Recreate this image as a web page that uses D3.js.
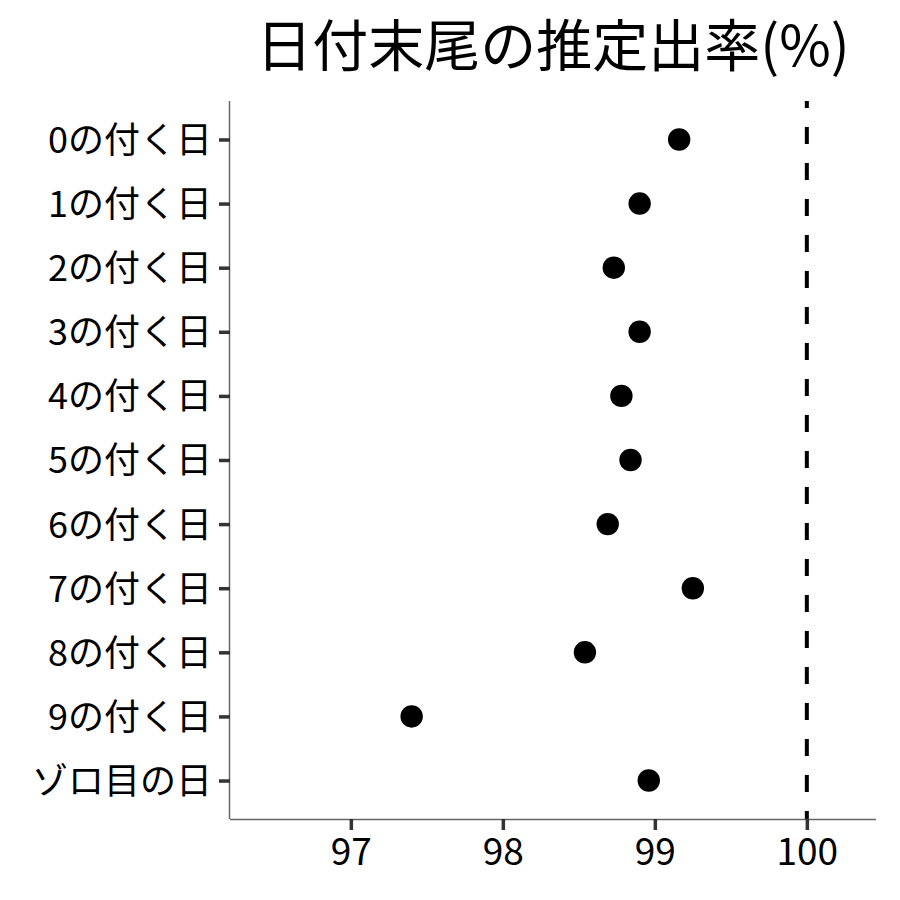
<!DOCTYPE html>
<html lang="ja">
<head>
<meta charset="UTF-8">
<title>日付末尾の推定出率</title>
<style>
  body { margin: 0; background: #fff; }
  svg text { font-family: "Noto Sans CJK JP", "Noto Sans", sans-serif; fill: #000; }
  .axis path { stroke: #666; stroke-width: 1.5; }
  .axis line { stroke: #333; stroke-width: 3.5; }
</style>
</head>
<body>
<div id="chart"></div>
<script src="https://cdn.jsdelivr.net/npm/d3@7"></script>
<script>
// categories, top to bottom
var categories = ["0の付く日", "1の付く日", "2の付く日", "3の付く日", "4の付く日",
                  "5の付く日", "6の付く日", "7の付く日", "8の付く日", "9の付く日", "ゾロ目の日"];
// estimated payout rate (%)
var rates = [99.16, 98.90, 98.73, 98.90, 98.78, 98.84, 98.69, 99.25, 98.54, 97.40, 98.96];
var xTicks = [97, 98, 99, 100];
var refLine = 100;

var W = 900, H = 900;
var margin = { top: 101, right: 24, bottom: 81, left: 230 };
var width = W - margin.left - margin.right,
    height = H - margin.top - margin.bottom;

var svg = d3.select("#chart").append("svg")
    .attr("width", W).attr("height", H);

var g = svg.append("g")
    .attr("transform", "translate(" + margin.left + "," + margin.top + ")");

var x = d3.scaleLinear().domain([96.205, 100.455]).range([0, width]);

var y = d3.scalePoint().domain(categories).range([0, height]).padding(0.6);

// dashed reference line
g.append("line")
    .attr("x1", x(refLine)).attr("x2", x(refLine))
    .attr("y1", 0).attr("y2", height)
    .attr("stroke", "#000").attr("stroke-width", 4)
    .attr("stroke-dasharray", "17,19")
    .attr("stroke-dashoffset", 10);

// x axis
var xAxis = g.append("g").attr("class", "axis")
    .attr("transform", "translate(0," + height + ")")
    .call(d3.axisBottom(x).tickValues(xTicks).tickFormat(d3.format("d"))
        .tickSize(11).tickSizeOuter(0).tickPadding(8));
xAxis.selectAll("text").style("font-size", "37px").attr("dy", "0.72em");

// y axis
var yAxis = g.append("g").attr("class", "axis")
    .call(d3.axisLeft(y).tickSize(11).tickSizeOuter(0).tickPadding(7));
yAxis.selectAll("text").style("font-size", "36px").attr("dy", "0.36em");

// clean up axis domain lines to exact extents
xAxis.select("path").attr("d", "M0,0.5H" + width);
yAxis.select("path").attr("d", "M-0.5,0V" + height);

// points
g.selectAll("circle.pt")
    .data(rates)
  .enter().append("circle")
    .attr("class", "pt")
    .attr("cx", function(d) { return x(d); })
    .attr("cy", function(d, i) { return y(categories[i]); })
    .attr("r", 11.2)
    .attr("fill", "#000");

// title
svg.append("text")
    .attr("x", margin.left + width / 2)
    .attr("y", 66)
    .attr("text-anchor", "middle")
    .style("font-size", "56px")
    .text("日付末尾の推定出率(%)");
</script>
</body>
</html>
